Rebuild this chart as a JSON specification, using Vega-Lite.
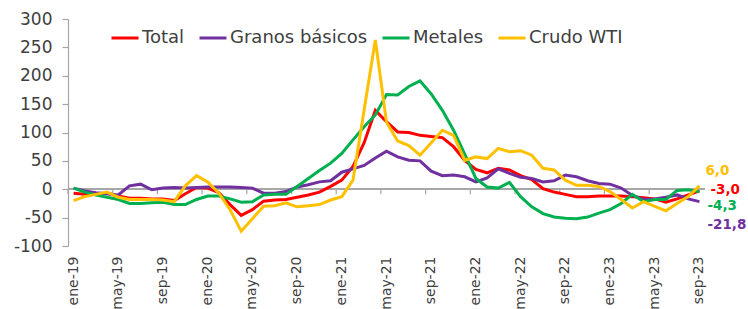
{
  "$schema": "https://vega.github.io/schema/vega-lite/v6.json",
  "width": 637,
  "height": 227,
  "autosize": {"type": "none"},
  "padding": {"left": 68, "top": 19, "right": 43, "bottom": 63},
  "background": "white",
  "config": {
    "view": {"stroke": null},
    "font": "DejaVu Sans",
    "axis": {"grid": false, "title": null},
    "locale": {"number": {"decimal": ".", "thousands": ",", "grouping": [3], "currency": ["$", ""], "minus": "-"}}
  },
  "data": {"values": [
      {"mes":"ene-19","Total":-7,"Granos básicos":2,"Metales":2,"Crudo WTI":-20},
      {"mes":"feb-19","Total":-9,"Granos básicos":-3,"Metales":-5,"Crudo WTI":-13},
      {"mes":"mar-19","Total":-8,"Granos básicos":-6,"Metales":-10,"Crudo WTI":-9},
      {"mes":"abr-19","Total":-7,"Granos básicos":-8,"Metales":-14,"Crudo WTI":-5},
      {"mes":"may-19","Total":-12,"Granos básicos":-10,"Metales":-18,"Crudo WTI":-14},
      {"mes":"jun-19","Total":-16,"Granos básicos":6,"Metales":-25,"Crudo WTI":-18},
      {"mes":"jul-19","Total":-16,"Granos básicos":9,"Metales":-25,"Crudo WTI":-18},
      {"mes":"ago-19","Total":-17,"Granos básicos":-1,"Metales":-24,"Crudo WTI":-18},
      {"mes":"sep-19","Total":-17,"Granos básicos":2,"Metales":-23,"Crudo WTI":-19},
      {"mes":"oct-19","Total":-20,"Granos básicos":3,"Metales":-27,"Crudo WTI":-22},
      {"mes":"nov-19","Total":-8,"Granos básicos":2,"Metales":-27,"Crudo WTI":6},
      {"mes":"dic-19","Total":3,"Granos básicos":3,"Metales":-18,"Crudo WTI":24},
      {"mes":"ene-20","Total":2,"Granos básicos":4,"Metales":-12,"Crudo WTI":13},
      {"mes":"feb-20","Total":-6,"Granos básicos":4,"Metales":-12,"Crudo WTI":-7},
      {"mes":"mar-20","Total":-27,"Granos básicos":4,"Metales":-17,"Crudo WTI":-36},
      {"mes":"abr-20","Total":-46,"Granos básicos":3,"Metales":-23,"Crudo WTI":-74},
      {"mes":"may-20","Total":-36,"Granos básicos":2,"Metales":-22,"Crudo WTI":-52},
      {"mes":"jun-20","Total":-21,"Granos básicos":-7,"Metales":-10,"Crudo WTI":-30},
      {"mes":"jul-20","Total":-19,"Granos básicos":-7,"Metales":-9,"Crudo WTI":-29},
      {"mes":"ago-20","Total":-18,"Granos básicos":-4,"Metales":-9,"Crudo WTI":-24},
      {"mes":"sep-20","Total":-14,"Granos básicos":4,"Metales":5,"Crudo WTI":-31},
      {"mes":"oct-20","Total":-10,"Granos básicos":8,"Metales":19,"Crudo WTI":-29},
      {"mes":"nov-20","Total":-5,"Granos básicos":13,"Metales":33,"Crudo WTI":-27},
      {"mes":"dic-20","Total":5,"Granos básicos":15,"Metales":46,"Crudo WTI":-19},
      {"mes":"ene-21","Total":16,"Granos básicos":30,"Metales":63,"Crudo WTI":-13},
      {"mes":"feb-21","Total":40,"Granos básicos":36,"Metales":87,"Crudo WTI":16},
      {"mes":"mar-21","Total":82,"Granos básicos":42,"Metales":110,"Crudo WTI":140},
      {"mes":"abr-21","Total":139,"Granos básicos":55,"Metales":131,"Crudo WTI":263},
      {"mes":"may-21","Total":119,"Granos básicos":67,"Metales":167,"Crudo WTI":118},
      {"mes":"jun-21","Total":101,"Granos básicos":57,"Metales":166,"Crudo WTI":85},
      {"mes":"jul-21","Total":100,"Granos básicos":51,"Metales":181,"Crudo WTI":77},
      {"mes":"ago-21","Total":95,"Granos básicos":50,"Metales":191,"Crudo WTI":60},
      {"mes":"sep-21","Total":93,"Granos básicos":32,"Metales":168,"Crudo WTI":82},
      {"mes":"oct-21","Total":91,"Granos básicos":24,"Metales":139,"Crudo WTI":104},
      {"mes":"nov-21","Total":75,"Granos básicos":25,"Metales":104,"Crudo WTI":95},
      {"mes":"dic-21","Total":51,"Granos básicos":22,"Metales":62,"Crudo WTI":51},
      {"mes":"ene-22","Total":35,"Granos básicos":13,"Metales":19,"Crudo WTI":57},
      {"mes":"feb-22","Total":29,"Granos básicos":20,"Metales":4,"Crudo WTI":54},
      {"mes":"mar-22","Total":37,"Granos básicos":36,"Metales":2,"Crudo WTI":72},
      {"mes":"abr-22","Total":34,"Granos básicos":28,"Metales":12,"Crudo WTI":66},
      {"mes":"may-22","Total":24,"Granos básicos":21,"Metales":-13,"Crudo WTI":68},
      {"mes":"jun-22","Total":17,"Granos básicos":19,"Metales":-31,"Crudo WTI":60},
      {"mes":"jul-22","Total":1,"Granos básicos":13,"Metales":-43,"Crudo WTI":37},
      {"mes":"ago-22","Total":-5,"Granos básicos":15,"Metales":-49,"Crudo WTI":34},
      {"mes":"sep-22","Total":-9,"Granos básicos":25,"Metales":-51,"Crudo WTI":16},
      {"mes":"oct-22","Total":-13,"Granos básicos":22,"Metales":-52,"Crudo WTI":7},
      {"mes":"nov-22","Total":-13,"Granos básicos":15,"Metales":-49,"Crudo WTI":7},
      {"mes":"dic-22","Total":-12,"Granos básicos":10,"Metales":-42,"Crudo WTI":5},
      {"mes":"ene-23","Total":-12,"Granos básicos":9,"Metales":-36,"Crudo WTI":-4},
      {"mes":"feb-23","Total":-12,"Granos básicos":2,"Metales":-25,"Crudo WTI":-18},
      {"mes":"mar-23","Total":-13,"Granos básicos":-11,"Metales":-9,"Crudo WTI":-33},
      {"mes":"abr-23","Total":-15,"Granos básicos":-18,"Metales":-22,"Crudo WTI":-22},
      {"mes":"may-23","Total":-17,"Granos básicos":-17,"Metales":-18,"Crudo WTI":-30},
      {"mes":"jun-23","Total":-23,"Granos básicos":-14,"Metales":-18,"Crudo WTI":-38},
      {"mes":"jul-23","Total":-17,"Granos básicos":-10,"Metales":-2,"Crudo WTI":-25},
      {"mes":"ago-23","Total":-10,"Granos básicos":-17,"Metales":-1,"Crudo WTI":-13},
      {"mes":"sep-23","Total":-3,"Granos básicos":-21.8,"Metales":-4.3,"Crudo WTI":6}
  ]},
  "transform": [{"fold": ["Total", "Granos básicos", "Metales", "Crudo WTI"], "as": ["serie", "valor"]}],
  "encoding": {
    "x": {
      "field": "mes", "type": "ordinal", "sort": null,
      "scale": {"type": "band", "paddingInner": 0, "paddingOuter": 0,
        "domain": ["ene-19","feb-19","mar-19","abr-19","may-19","jun-19","jul-19","ago-19","sep-19","oct-19","nov-19","dic-19","ene-20","feb-20","mar-20","abr-20","may-20","jun-20","jul-20","ago-20","sep-20","oct-20","nov-20","dic-20","ene-21","feb-21","mar-21","abr-21","may-21","jun-21","jul-21","ago-21","sep-21","oct-21","nov-21","dic-21","ene-22","feb-22","mar-22","abr-22","may-22","jun-22","jul-22","ago-22","sep-22","oct-22","nov-22","dic-22","ene-23","feb-23","mar-23","abr-23","may-23","jun-23","jul-23","ago-23","sep-23"]},
      "axis": {"orient": "bottom", "values": ["ene-19","may-19","sep-19","ene-20","may-20","sep-20","ene-21","may-21","sep-21","ene-22","may-22","sep-22","ene-23","may-23","sep-23"], "labelAngle": -90, "labelAlign": "right", "labelBaseline": "middle", "labelPadding": 10, "ticks": false, "domain": false, "labelFontSize": 14, "labelColor": "#404040", "labelOverlap": false}
    },
    "y": {"field": "valor", "type": "quantitative", "scale": {"domain": [-100, 300], "nice": false, "zero": false},
      "axis": {"values": [-100,-50,0,50,100,150,200,250,300], "domain": true, "domainColor": "#A6A6A6", "domainWidth": 1.2, "ticks": true, "tickColor": "#A6A6A6", "tickWidth": 1.2, "tickSize": 6, "labelFontSize": 17, "labelColor": "#404040", "labelPadding": 10, "labelOverlap": false, "labelBound": false}}
  },
  "layer": [
    {
      "mark": {"type": "rule", "color": "#A6A6A6", "strokeWidth": 1.2},
      "encoding": {"x": {"value": 0}, "x2": {"value": 637}, "y": {"datum": 0}}
    },
    {
      "transform": [{"filter": "datum.serie == 'Total' && indexof(['ene','may','sep'], slice(datum.mes, 0, 3)) >= 0"}],
      "mark": {"type": "rule", "color": "#A6A6A6", "strokeWidth": 1.2},
      "encoding": {
        "x": {"field": "mes", "type": "ordinal", "bandPosition": 0},
        "y": {"datum": 0},
        "y2": {"datum": -8.8}
      }
    },
    {
      "mark": {"type": "line", "strokeWidth": 3, "interpolate": "linear"},
      "encoding": {
        "color": {
          "field": "serie", "type": "nominal",
          "scale": {"domain": ["Total", "Granos básicos", "Metales", "Crudo WTI"], "range": ["#FF0000", "#7030A0", "#00B050", "#FFC000"]},
          "legend": {"orient": "none", "legendX": 42, "legendY": 4, "direction": "horizontal", "title": null, "symbolType": "stroke", "symbolSize": 729, "symbolStrokeWidth": 3, "labelFontSize": 18, "labelColor": "#404040", "labelOffset": 2, "columnPadding": 8}
        }
      }
    },
    {
      "transform": [{"filter": "datum.mes == 'sep-23' && datum.serie == 'Crudo WTI'"}],
      "mark": {"type": "text", "align": "left", "baseline": "middle", "dx": 6, "dy": -15, "fontSize": 13.5, "fontWeight": "bold", "color": "#FFC000", "text": "6,0"}
    },
    {
      "transform": [{"filter": "datum.mes == 'sep-23' && datum.serie == 'Total'"}],
      "mark": {"type": "text", "align": "left", "baseline": "middle", "dx": 11, "dy": -1, "fontSize": 13.5, "fontWeight": "bold", "color": "#FF0000", "text": "-3,0"}
    },
    {
      "transform": [{"filter": "datum.mes == 'sep-23' && datum.serie == 'Metales'"}],
      "mark": {"type": "text", "align": "left", "baseline": "middle", "dx": 8, "dy": 14, "fontSize": 13.5, "fontWeight": "bold", "color": "#00B050", "text": "-4,3"}
    },
    {
      "transform": [{"filter": "datum.mes == 'sep-23' && datum.serie == 'Granos básicos'"}],
      "mark": {"type": "text", "align": "left", "baseline": "middle", "dx": 8, "dy": 23, "fontSize": 13.5, "fontWeight": "bold", "color": "#7030A0", "text": "-21,8"}
    }
  ]
}
